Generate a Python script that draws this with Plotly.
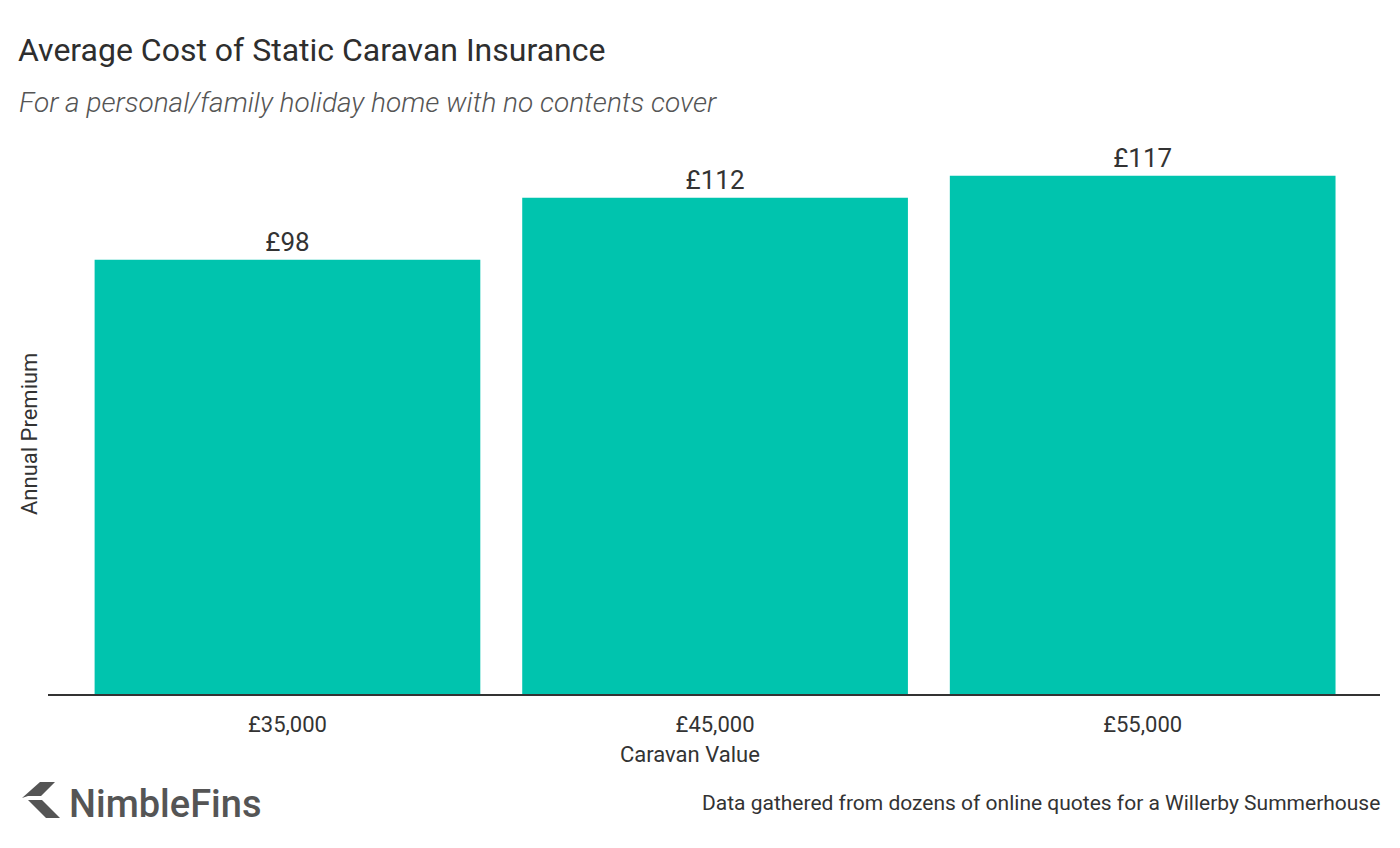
import plotly.graph_objects as go

categories = ["£35,000", "£45,000", "£55,000"]
premiums = [98, 112, 117]
labels = ["£98", "£112", "£117"]

W, H = 1400, 848
ml, mr, mt, mb = 48, 20, 150, 154
PW, PH = W - ml - mr, H - mt - mb


def px(x):
    return (x - ml) / PW


def py(y):
    return (H - mb - y) / PH


fig = go.Figure()
fig.add_trace(go.Bar(
    x=categories, y=premiums, text=labels, textposition="outside",
    marker=dict(color="#00C4AE", line=dict(width=0)),
    textfont=dict(family="Roboto", size=26, color="#333333"),
    cliponaxis=False, hoverinfo="skip",
))

fig.update_layout(
    width=W, height=H, autosize=False,
    margin=dict(l=ml, r=mr, t=mt, b=mb),
    paper_bgcolor="white", plot_bgcolor="white",
    bargap=0.098, showlegend=False,
    font=dict(family="Roboto", color="#333333"),
    xaxis=dict(
        range=[-0.56, 2.555], showgrid=False, showline=True, linecolor="#333333", linewidth=2,
        ticks="", ticklabelstandoff=10, tickfont=dict(family="Roboto", size=22, color="#333333"),
    ),
    yaxis=dict(
        range=[0, 122.8], showgrid=False, showticklabels=False, zeroline=False, ticks="",
    ),
)

fig.add_annotation(text="Caravan Value", xref="paper", yref="paper",
                   x=px(690), y=py(754), xanchor="center", yanchor="middle",
                   showarrow=False, font=dict(family="Roboto", size=22, color="#333333"))
fig.add_annotation(text="Annual Premium", xref="paper", yref="paper", textangle=-90,
                   x=px(30), y=py(434), xanchor="center", yanchor="middle",
                   showarrow=False, font=dict(family="Roboto", size=22, color="#333333"))

fig.add_annotation(text="Average Cost of Static Caravan Insurance", xref="paper", yref="paper",
                   x=px(16), y=py(50), xanchor="left", yanchor="middle",
                   showarrow=False, font=dict(family="Roboto", size=32, color="#2e2e2e"))
fig.add_annotation(text="For a personal/family holiday home with no contents cover", xref="paper", yref="paper",
                   x=px(17), y=py(102), xanchor="left", yanchor="middle",
                   showarrow=False, font=dict(family="Roboto", size=28, color="#555555", style="italic", weight=300))
fig.add_annotation(text="Data gathered from dozens of online quotes for a Willerby Summerhouse", xref="paper", yref="paper",
                   x=px(1382), y=py(803), xanchor="right", yanchor="middle",
                   showarrow=False, font=dict(family="Roboto", size=21, color="#333333"))
fig.add_annotation(text="NimbleFins", xref="paper", yref="paper",
                   x=px(67), y=py(804), xanchor="left", yanchor="middle",
                   showarrow=False, font=dict(family="Roboto", size=38, color="#555555", weight=500))

# logo chevron
top_pts = [(22, 798), (40, 782), (55, 782), (41, 796), (28, 796)]
bot_pts = [(28, 800), (42, 800), (60, 818), (46, 818)]
for pts in (top_pts, bot_pts):
    path = "M " + " L ".join("{} {}".format(px(a), py(b)) for a, b in pts) + " Z"
    fig.add_shape(type="path", xref="paper", yref="paper", path=path,
                  fillcolor="#555555", line=dict(width=0))

fig.write_html("out.html")
